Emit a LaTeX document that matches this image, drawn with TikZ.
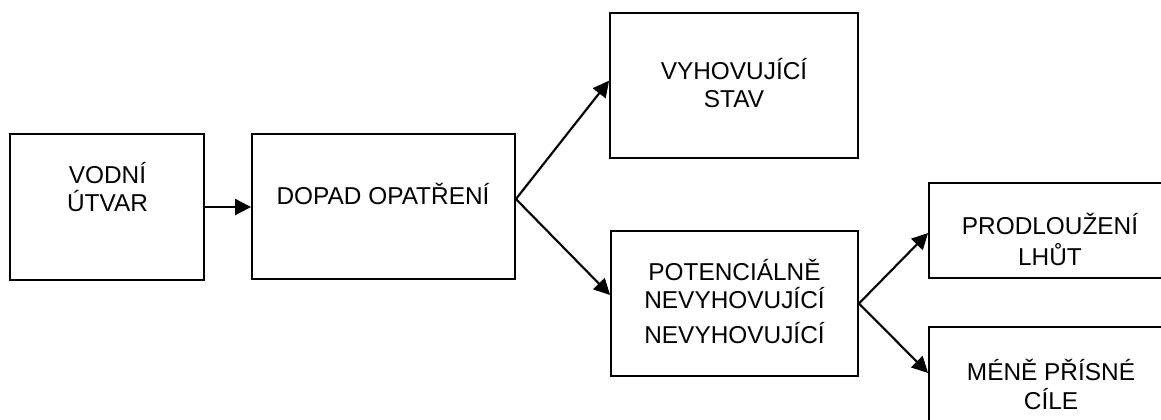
\documentclass[tikz,border=0pt]{standalone}
\usepackage{fontspec}
\setmainfont{Liberation Sans}
\usetikzlibrary{arrows.meta}
\tikzset{
  box/.style={draw=black, line width=1.4pt, rectangle, inner sep=0pt, fill=none},
  lbl/.style={anchor=base, align=center, inner sep=0pt, font=\fontsize{18.3}{21}\selectfont},
  arr/.style={draw=black, line width=1.6pt, -{Triangle[length=12pt,width=12pt]}}
}
\begin{document}
\begin{tikzpicture}[x=0.75pt,y=-0.75pt]
\useasboundingbox (0,0) rectangle (1161,419);
\clip (0,0) rectangle (1161,419);
\node[box, minimum width=145.5pt, minimum height=109.5pt] (b1) at (107,207) {};
\node[box, minimum width=197.25pt, minimum height=108.75pt] (b2) at (383.5,206.5) {};
\node[box, minimum width=186pt, minimum height=108.75pt] (b3) at (734,85.5) {};
\node[box, minimum width=185.25pt, minimum height=108.75pt] (b4) at (734.5,303.5) {};
\node[box, minimum width=195.75pt, minimum height=71.25pt] (b5) at (1059.5,230.5) {};
\node[box, minimum width=195.75pt, minimum height=84.75pt] (b6) at (1059.5,383.5) {};
\node[lbl] (t1) at (107.5,211) {VODNÍ\\[-0.2pt]ÚTVAR};
\node[lbl] (t2) at (383,204) {DOPAD OPATŘENÍ};
\node[lbl] (t3) at (734,107.3) {VYHOVUJÍCÍ\\STAV};
\node[lbl] (t4) at (734.5,343.3) {POTENCIÁLNĚ\\[0.2pt]NEVYHOVUJÍCÍ\\[5.25pt]NEVYHOVUJÍCÍ};
\node[lbl] (t5) at (1050,265) {PRODLOUŽENÍ\\[2.25pt]LHŮT};
\node[lbl] (t6) at (1051,409) {MÉNĚ PŘÍSNÉ\\[0.4pt]CÍLE};
\coordinate (o2) at ([yshift=5.6pt]b2.east);
\draw[arr] (b1.east) -- (b1.east -| b2.west);
\draw[arr] (o2) -- ([yshift=3.6pt]b3.west);
\draw[arr] (o2) -- ([yshift=6.4pt]b4.west);
\draw[arr] (b4.east) -- ([yshift=-1.9pt]b5.west);
\draw[arr] (b4.east) -- ([yshift=7.9pt]b6.west);
\end{tikzpicture}
\end{document}
